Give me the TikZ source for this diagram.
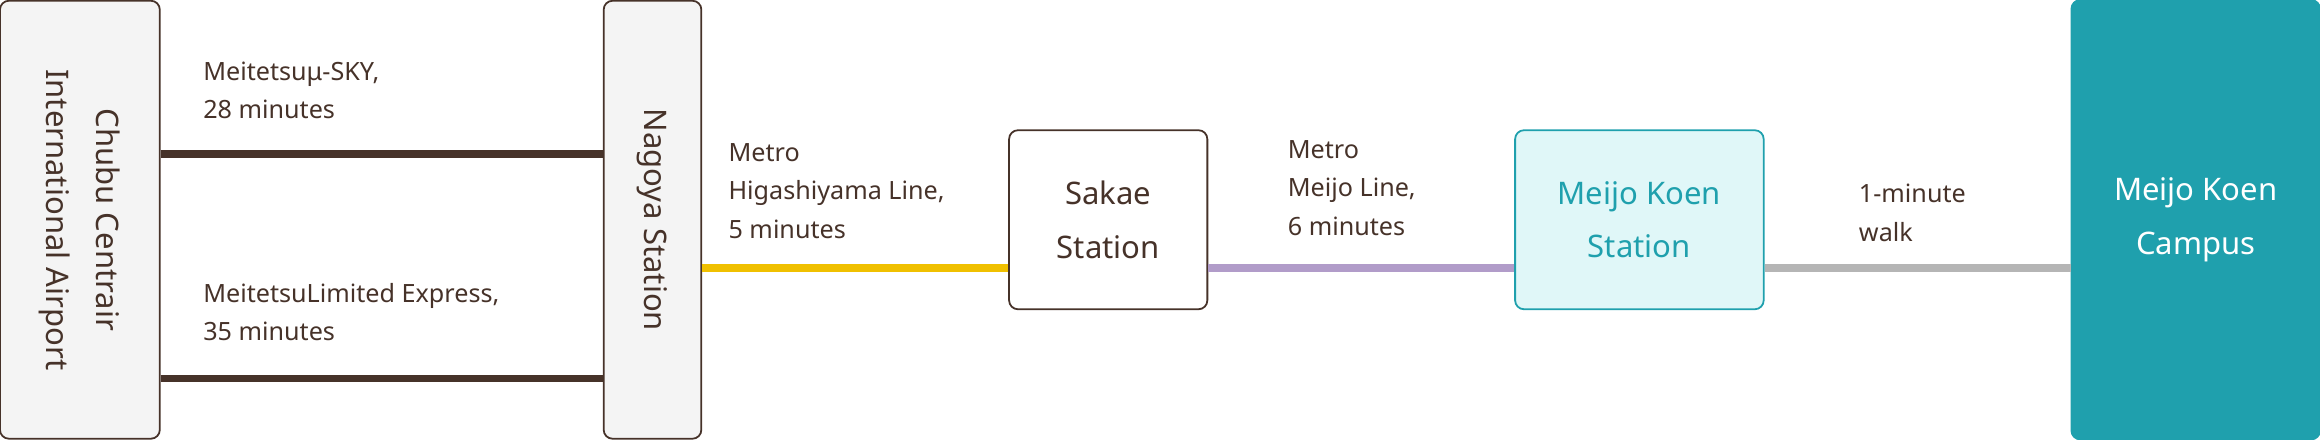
\documentclass[tikz,border=0pt]{standalone}
\usepackage{fontspec}
\setmainfont{Noto Sans}[BoldFeatures={FakeBold=2.5}]
\usetikzlibrary{positioning}
\definecolor{brn}{HTML}{463229}
\definecolor{boxgray}{HTML}{F4F4F4}
\definecolor{teal}{HTML}{1FA0AD}
\definecolor{lcyan}{HTML}{E0F7F8}
\definecolor{yel}{HTML}{F0C000}
\definecolor{purp}{HTML}{B19CC9}
\definecolor{gline}{HTML}{B5B5B5}
\begin{document}
\begin{tikzpicture}[x=0.5pt,y=-0.5pt,font=\fontsize{8.5}{13}\selectfont,
  stop/.style={draw=brn,line width=0.6pt,rounded corners=3pt,font=\fontsize{10.5}{18}\selectfont\bfseries,align=center,inner sep=0pt},
  lbl/.style={anchor=west,align=left,text=brn,inner sep=0pt},
  rail/.style={line width=2.5pt}]
  \useasboundingbox (0,0) rectangle (1568,297);
  % end boxes
  \node[stop,fill=boxgray,minimum width=54pt,minimum height=148pt] (apt) at (54,148.5) {};
  \node[rotate=-90,font=\fontsize{10.5}{17}\selectfont\bfseries,align=center,text=brn] at (apt.center) {Chubu Centrair\\International Airport};
  \node[stop,fill=boxgray,minimum width=33pt,minimum height=148pt] (ngy) at (441,148.5) {};
  \node[rotate=-90,font=\fontsize{10.5}{14}\selectfont\bfseries,text=brn] at (ngy.center) {Nagoya Station};
  \node[stop,fill=white,text=brn,minimum width=67pt,minimum height=60.5pt] (sak) at (749,148.5) {Sakae\\Station};
  \node[stop,draw=teal,fill=lcyan,text=teal,minimum width=84pt,minimum height=60.5pt] (mks) at (1108,148.5) {Meijo Koen\\Station};
  \node[stop,draw=teal,fill=teal,text=white,minimum width=84pt,minimum height=148.5pt] (cmp) at (1484,148.5) {Meijo Koen\\Campus};
  % connectors
  \coordinate (a1) at (apt.east |- 0,104);
  \coordinate (a2) at (apt.east |- 0,256);
  \coordinate (r) at (ngy.east |- 0,181);
  \draw[rail,brn] (a1) -- (a1 -| ngy.west);
  \draw[rail,brn] (a2) -- (a2 -| ngy.west);
  \draw[rail,yel] (r) -- (r -| sak.west);
  \draw[rail,purp] (r -| sak.east) -- (r -| mks.west);
  \draw[rail,gline] (r -| mks.east) -- (r -| cmp.west);
  % labels
  \node[lbl] (l1) at (137,61) {Meitetsuμ-SKY,\\28 minutes};
  \node[lbl] (l2) at (137,211) {MeitetsuLimited Express,\\35 minutes};
  \node[lbl] (l3) at (492,129) {Metro\\Higashiyama Line,\\5 minutes};
  \node[lbl] (l4) at (870,127) {Metro\\Meijo Line,\\6 minutes};
  \node[lbl] (l5) at (1256,144) {1-minute\\walk};
\end{tikzpicture}
\end{document}
